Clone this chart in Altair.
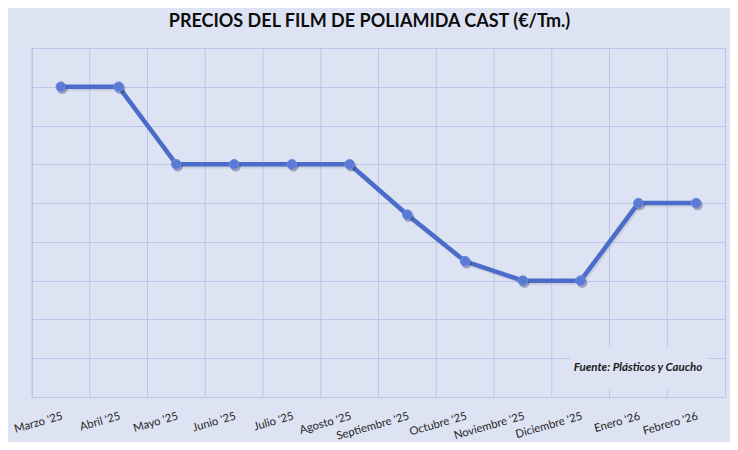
import altair as alt
import pandas as pd

meses = ["Marzo '25", "Abril '25", "Mayo '25", "Junio '25", "Julio '25", "Agosto '25",
         "Septiembre '25", "Octubre '25", "Noviembre '25", "Diciembre '25", "Enero '26", "Febrero '26"]
precios = [8.0, 8.0, 6.0, 6.0, 6.0, 6.0, 4.7, 3.5, 3.0, 3.0, 5.0, 5.0]
y_ticks = [0, 1, 2, 3, 4, 5, 6, 7, 8, 9]
fuente = ["Fuente: Plásticos y Caucho"]

BG = "#dde3f3"
GRID = "#b7c8ea"
LINE = "#4b6cc8"

df = pd.DataFrame({"mes": meses, "precio": precios})
W, H = 693, 349

x_enc = alt.X("mes:N", sort=meses, title=None,
              scale=alt.Scale(paddingInner=0, paddingOuter=0),
              axis=alt.Axis(labelAngle=-16, labelAlign="right", labelBaseline="top",
                            labelPadding=13, labelFont="Lato", labelFontSize=11.3,
                            labelColor="#262626", ticks=False, domain=False, grid=False))
y_enc = alt.Y("precio:Q", title=None,
              scale=alt.Scale(domain=[0, 9], nice=False, zero=True),
              axis=alt.Axis(values=y_ticks, labels=False, ticks=False, domain=False,
                            grid=True, gridColor=GRID, gridWidth=1))

base = alt.Chart(df)

vgrid = base.mark_rule(color=GRID, strokeWidth=1).encode(
    x=alt.X("mes:N", sort=meses, bandPosition=0)
)

box = alt.Chart(pd.DataFrame({"t": fuente})).mark_rect(color=BG).encode(
    x=alt.value(538), x2=alt.value(676), y=alt.value(299), y2=alt.value(342)
)
box_text = alt.Chart(pd.DataFrame({"t": fuente})).mark_text(
    font="Lato", fontSize=11.5, fontStyle="italic", fontWeight="bold", color="#1a1a1a"
).encode(text="t:N", x=alt.value(606), y=alt.value(320))

shadow_line = base.mark_line(color="#3a3f55", strokeWidth=4.5, opacity=0.12,
                             xOffset=1.5, yOffset=2).encode(x=x_enc, y=y_enc)
line = base.mark_line(color=LINE, strokeWidth=4.5).encode(x=x_enc, y=y_enc)
shadow_pts = base.mark_circle(color="#2d3350", size=110, opacity=0.35,
                              xOffset=1.5, yOffset=2).encode(x=x_enc, y=y_enc)
pts = base.mark_circle(color="#5a7ad6", size=95, opacity=1,
                       stroke="#6f8ede", strokeWidth=1).encode(x=x_enc, y=y_enc)

chart = alt.layer(vgrid, box, box_text, shadow_line, line, shadow_pts, pts).properties(
    width=W, height=H,
    title=alt.Title("PRECIOS DEL FILM DE POLIAMIDA CAST (€/Tm.)", font="Lato",
                    fontSize=18, fontWeight="bold", color="#0d0d0d",
                    anchor="middle", dx=-9, offset=17),
    autosize=alt.AutoSizeParams(type="none"),
    padding={"left": 24, "top": 40, "right": 5, "bottom": 45},
    background=BG,
).configure_view(stroke=GRID, strokeWidth=1)

chart.save("out.html", embed_options={"renderer": "svg", "actions": False})
